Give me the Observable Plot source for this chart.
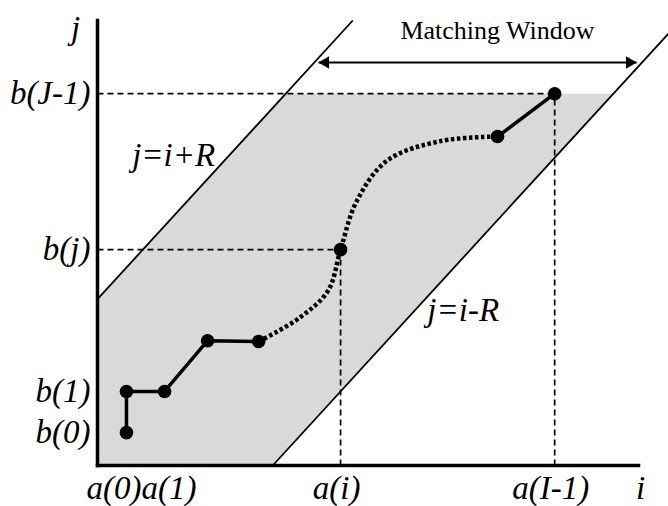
<!DOCTYPE html>
<html><head><meta charset="utf-8">
<script src="https://cdn.jsdelivr.net/npm/d3@7"></script>
<script src="https://cdn.jsdelivr.net/npm/@observablehq/plot@0.6"></script>
<style>body{margin:0;background:#fff}</style>
</head><body><div id="chart"></div>
<script>
// warping path (i, j) in schematic index units
const solidStartI = [0.76, 0.76, 1.76, 2.89, 4.23];
const solidStartJ = [0.79, 1.78, 1.78, 3.00, 2.98];
const solidEndI = [10.5, 12.0];
const solidEndJ = [7.91, 8.94];
const dottedI = [4.23, 5.3, 6.05, 6.38, 6.8, 7.6, 9.0, 10.5];
const dottedJ = [2.98, 3.55, 4.2, 5.19, 6.35, 7.33, 7.8, 7.91];
const markedI = [0.76, 0.76, 1.76, 2.89, 4.23, 6.38, 10.5, 12.0];
const markedJ = [0.79, 1.78, 1.78, 3.00, 2.98, 5.19, 7.91, 8.94];
// window
const R = 4.0, Rlow = 4.6;
const iMax = 14.2, jMax = 10.7;
const jEnd = 8.94, iEnd = 12.0, iMid = 6.38, jMid = 5.19;
// tick labels
const yTickLabels = ["b(J-1)", "b(j)", "b(1)", "b(0)"];
const yTickValues = [8.94, 5.19, 1.78, 0.79];
const xTickLabels = ["a(0)a(1)", "a(i)", "a(I-1)"];
const xTickValues = [1.26, 6.38, 12.0];
const arrowJ = 9.69, arrowFrom = 5.8, arrowTo = 14.15;

const serif = "Liberation Serif, Times New Roman, serif";
const solidA = solidStartI.map((i, k) => ({i, j: solidStartJ[k]}));
const solidB = solidEndI.map((i, k) => ({i, j: solidEndJ[k]}));
const dotted = dottedI.map((i, k) => ({i, j: dottedJ[k]}));
const marked = markedI.map((i, k) => ({i, j: markedJ[k]}));
const band = [
  {i: 0, j: 0}, {i: Rlow, j: 0}, {i: jEnd + Rlow, j: jEnd},
  {i: jEnd - R, j: jEnd}, {i: 0, j: R}
];
const segs = (arr) => arr.map(([x1, y1, x2, y2]) => ({x1, y1, x2, y2}));
const ital = {fontFamily: serif, fontStyle: "italic", fontSize: 33, fill: "black"};

const chart = Plot.plot({
  width: 668, height: 506,
  marginLeft: 97, marginRight: 30, marginTop: 20, marginBottom: 41,
  x: {domain: [0, iMax], axis: null},
  y: {domain: [0, jMax], axis: null},
  style: {background: "#fff"},
  marks: [
    Plot.line(band, {x: "i", y: "j", fill: "#d9d9d9", stroke: "none", curve: "linear-closed"}),
    // dashed guides
    Plot.link(segs([[0, jEnd, iEnd, jEnd], [iEnd, 0, iEnd, jEnd], [0, jMid, iMid, jMid], [iMid, 0, iMid, jMid]]),
      {x1: "x1", y1: "y1", x2: "x2", y2: "y2", stroke: "black", strokeWidth: 1.7, strokeDasharray: "6,4"}),
    // window boundaries
    Plot.link(segs([[0, R, jMax - R, jMax], [Rlow, 0, 15.0, 15.0 - Rlow]]),
      {x1: "x1", y1: "y1", x2: "x2", y2: "y2", stroke: "black", strokeWidth: 1.8}),
    // axes
    Plot.link(segs([[0, 0, 0, jMax], [0, 0, iMax, 0]]),
      {x1: "x1", y1: "y1", x2: "x2", y2: "y2", stroke: "black", strokeWidth: 3.5, strokeLinecap: "square"}),
    // path
    Plot.line(dotted, {x: "i", y: "j", curve: "catmull-rom", stroke: "black", strokeWidth: 4.5,
      strokeDasharray: "3.5,2.5", strokeLinecap: "butt"}),
    Plot.line(solidA, {x: "i", y: "j", stroke: "black", strokeWidth: 3.5}),
    Plot.line(solidB, {x: "i", y: "j", stroke: "black", strokeWidth: 3.5}),
    Plot.dot(marked, {x: "i", y: "j", r: 6.8, fill: "black"}),
    // matching window arrow
    Plot.link(segs([[arrowFrom, arrowJ, arrowTo, arrowJ]]), {x1: "x1", x2: "x2", y1: "y1", y2: "y2", stroke: "black", strokeWidth: 2}),
    Plot.dot([{x: arrowFrom, y: arrowJ}], {x: "x", y: "y", symbol: "triangle", r: 4.6, fill: "black", rotate: -90, dx: 7}),
    Plot.dot([{x: arrowTo, y: arrowJ}], {x: "x", y: "y", symbol: "triangle", r: 4.6, fill: "black", rotate: 90, dx: -7}),
    Plot.text(["Matching Window"], {x: 10.5, y: jMax, dy: 10, fontFamily: serif, fontSize: 26, fill: "black"}),
    // tick labels
    Plot.text(yTickLabels, {x: 0, y: (d, k) => yTickValues[k], text: d => d, textAnchor: "end", dx: -7, ...ital}),
    Plot.text(xTickLabels, {x: (d, k) => xTickValues[k], y: 0, text: d => d, dy: 23, dx: -4, ...ital}),
    // axis names
    Plot.text(["j"], {x: 0, y: jMax, dx: -22, dy: 8, ...ital}),
    Plot.text(["i"], {x: iMax, y: 0, dx: 2, dy: 23, ...ital}),
    // boundary equations
    Plot.text(["j=i+R"], {x: 2.0, y: 7.45, ...ital}),
    Plot.text(["j=i-R"], {x: 9.6, y: 3.72, ...ital})
  ]
});
document.getElementById("chart").appendChild(chart);
</script>
</body></html>
